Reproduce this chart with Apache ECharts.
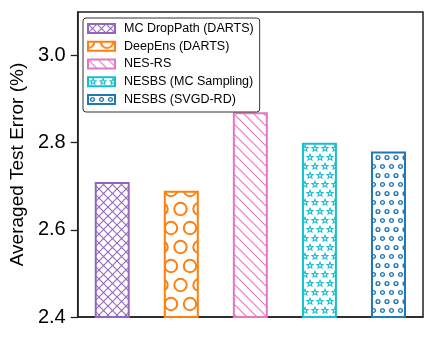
<!DOCTYPE html>
<html>
<head>
<meta charset="utf-8">
<script src="https://cdn.jsdelivr.net/npm/echarts@6/dist/echarts.min.js"></script>
<style>
  html, body { margin: 0; padding: 0; background: #fff; }
  #chart { width: 436px; height: 341px; }
</style>
</head>
<body>
<div id="chart"></div>
<script>
  // data
  const methods = ['MC DropPath (DARTS)', 'DeepEns (DARTS)', 'NES-RS', 'NESBS (MC Sampling)', 'NESBS (SVGD-RD)'];
  const errors = [2.71, 2.69, 2.87, 2.80, 2.78];
  const yTicks = [2.4, 2.6, 2.8, 3.0];

  const colors = ['#9467bd', '#ff7f0e', '#e377c2', '#17becf', '#1f77b4'];

  // small canvas tiles used as hatch fills
  function tile(w, h, color, draw) {
    const c = document.createElement('canvas');
    c.width = w; c.height = h;
    const ctx = c.getContext('2d');
    ctx.fillStyle = '#fff';
    ctx.fillRect(0, 0, w, h);
    ctx.strokeStyle = color;
    draw(ctx, w, h);
    return { image: c, repeat: 'repeat' };
  }
  function circle(ctx, x, y, r) {
    ctx.beginPath(); ctx.arc(x, y, r, 0, Math.PI * 2); ctx.stroke();
  }
  function star(ctx, x, y, R, r) {
    ctx.beginPath();
    for (let k = 0; k < 10; k++) {
      const a = -Math.PI / 2 + k * Math.PI / 5;
      const rr = k % 2 ? r : R;
      const px = x + rr * Math.cos(a), py = y + rr * Math.sin(a);
      k ? ctx.lineTo(px, py) : ctx.moveTo(px, py);
    }
    ctx.closePath(); ctx.stroke();
  }

  const patterns = [
    tile(9, 9, colors[0], (ctx, w, h) => {
      ctx.lineWidth = 1.1;
      ctx.beginPath();
      ctx.moveTo(-1, -1); ctx.lineTo(w + 1, h + 1);
      ctx.moveTo(w + 1, -1); ctx.lineTo(-1, h + 1);
      ctx.stroke();
    }),
    tile(19, 38, colors[1], (ctx, w, h) => {
      ctx.lineWidth = 2;
      [[0, 0], [w, 0], [0, h], [w, h], [w / 2, h / 2]].forEach(p => circle(ctx, p[0], p[1], 6.2));
    }),
    tile(10, 10, colors[2], (ctx, w, h) => {
      ctx.lineWidth = 1.1;
      ctx.beginPath();
      ctx.moveTo(-1, -1); ctx.lineTo(w + 1, h + 1);
      ctx.moveTo(-1, h - 1); ctx.lineTo(1, h + 1);
      ctx.moveTo(w - 1, -1); ctx.lineTo(w + 1, 1);
      ctx.stroke();
    }),
    tile(10, 18, colors[3], (ctx, w, h) => {
      ctx.lineWidth = 1.1;
      [[w / 2, 4.5], [0, 13.5], [w, 13.5]].forEach(p => star(ctx, p[0], p[1], 3.2, 1.4));
    }),
    tile(9, 18, colors[4], (ctx, w, h) => {
      ctx.lineWidth = 1.4;
      [[w / 2, 4.5], [0, 13.5], [w, 13.5]].forEach(p => circle(ctx, p[0], p[1], 1.9));
    })
  ];

  const chart = echarts.init(document.getElementById('chart'));

  const series = methods.map((m, i) => ({
    name: m,
    type: 'bar',
    barWidth: 35,
    barGap: '-100%',
    data: methods.map((_, j) => (j === i ? errors[i] : '-')),
    itemStyle: {
      color: patterns[i],
      borderColor: colors[i],
      borderWidth: 2
    }
  }));

  const option = {
    animation: false,
    textStyle: { fontFamily: 'Liberation Sans, Arial, sans-serif' },
    grid: {
      left: 77, right: 13, top: 12, bottom: 24,
      show: true, borderColor: '#222', borderWidth: 1.5, backgroundColor: 'transparent'
    },
    legend: {
      data: methods,
      orient: 'vertical',
      left: 83, top: 18,
      padding: [4, 6, 6, 4],
      icon: 'rect',
      itemWidth: 27, itemHeight: 9,
      itemGap: 4.75,
      backgroundColor: '#fff',
      borderColor: '#333',
      borderWidth: 1,
      borderRadius: 3,
      textStyle: { fontSize: 12.5, lineHeight: 13, color: '#000', padding: [0, 0, 0, 4] }
    },
    xAxis: {
      type: 'category',
      data: methods,
      axisLabel: { show: false },
      axisTick: { show: false },
      axisLine: { lineStyle: { color: '#222', width: 1.5 } }
    },
    yAxis: {
      type: 'value',
      min: 2.4, max: 3.1, interval: 0.2,
      name: 'Averaged Test Error (%)',
      nameLocation: 'middle',
      nameGap: 42,
      nameTextStyle: { fontSize: 19, color: '#000' },
      splitLine: { show: false },
      axisLine: { show: true, lineStyle: { color: '#222', width: 1.5 } },
      axisTick: { show: true, length: 7, customValues: yTicks, lineStyle: { color: '#222', width: 1.3 } },
      axisLabel: {
        customValues: yTicks,
        fontSize: 20, color: '#000', margin: 12,
        formatter: v => v.toFixed(1)
      }
    },
    series: series
  };

  chart.setOption(option);
</script>
</body>
</html>
